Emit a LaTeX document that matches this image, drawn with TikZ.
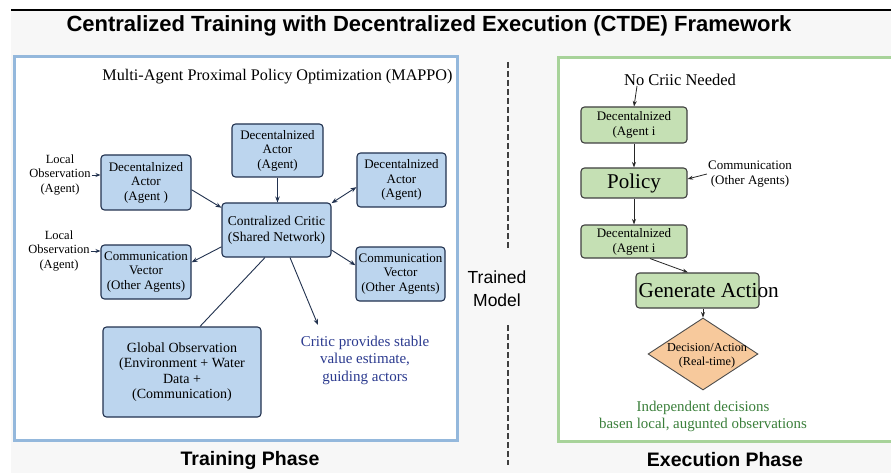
\documentclass[tikz,border=0pt]{standalone}
\usepackage{fontspec}
\setmainfont{Liberation Serif}
\setsansfont{Liberation Sans}
\usepackage{tikz}
\usetikzlibrary{arrows.meta,shapes.geometric}

\definecolor{panelblue}{HTML}{94B8DC}
\definecolor{panelgreen}{HTML}{A8D39A}
\definecolor{boxblue}{HTML}{BCD5EE}
\definecolor{boxgreen}{HTML}{C5E0B4}
\definecolor{navy}{HTML}{22324F}
\definecolor{notegreen}{HTML}{3A7F3A}
\definecolor{noteblue}{HTML}{2B3A8F}
\definecolor{decision}{HTML}{F7C99C}

\begin{document}
\begin{tikzpicture}[x=1pt,y=-1pt,
	fs/.style 2 args={font=\fontsize{#1}{#2}\selectfont},
	trainbox/.style={draw=navy, fill=boxblue, line width=1.1pt, rounded corners=3.5pt, align=center, inner sep=1pt, fs={13}{14.5}},
	execbox/.style={draw=black!75, fill=boxgreen, line width=1.1pt, rounded corners=3.5pt, align=center, inner sep=1pt, minimum width=106pt},
	tarrow/.style={-{Stealth[length=6pt,width=4.5pt]}, navy, line width=0.9pt},
	tboth/.style={tarrow, {Stealth[length=6pt,width=4.5pt]}-{Stealth[length=6pt,width=4.5pt]}},
	earrow/.style={-{Stealth[length=5.5pt,width=4pt]}, black!85, line width=0.8pt},
	divider/.style={dash pattern=on 6pt off 3pt, line width=1.6pt, black!75},
	phase/.style={font=\sffamily\bfseries\fontsize{19.5}{22}\selectfont, inner sep=0pt}]

	\useasboundingbox (0,0) rectangle (891,473);
	\fill[white] (0,0) rectangle (891,473);
	\fill[black!3] (11,10) rectangle (891,473);
	\draw[line width=1.4pt] (11,10) -- (891,10);

	\node[font=\sffamily\bfseries\fontsize{22}{26}\selectfont, anchor=base, inner sep=0pt] (title) at (429,32) {Centralized Training with Decentralized Execution (CTDE) Framework};

	\draw[panelblue, line width=3pt, fill=white] (14,57) rectangle (457,440);
	\draw[panelgreen, line width=3pt, fill=white] (558,58) rectangle (895,441);

	% training phase
	\node[fs={16.2}{19}, inner sep=0pt] (mappo) at (277.5,77) {Multi-Agent Proximal Policy Optimization (MAPPO)};

	\node[trainbox, minimum width=91pt, minimum height=53pt] (topactor) at (277.5,150.5) {Decentalnized\\Actor\\(Agent)};
	\node[trainbox, minimum width=90pt, minimum height=55pt] (leftactor) at (146,182.5) {Decentalnized\\Actor\\(Agent )};
	\node[trainbox, minimum width=89pt, minimum height=54pt] (rightactor) at (401.5,180) {Decentalnized\\Actor\\(Agent)};
	\node[trainbox, minimum width=109pt, minimum height=54pt, fs={13.5}{16}] (critic) at (276.5,230) {Contralized Critic\\(Shared Network)};
	\node[trainbox, minimum width=90pt, minimum height=54pt] (leftcomm) at (146,272) {Communication\\Vector\\(Other Agents)};
	\node[trainbox, minimum width=89pt, minimum height=54pt] (rightcomm) at (400.5,274) {Communication\\Vector\\(Other Agents)};
	\node[trainbox, minimum width=158pt, minimum height=90pt, fs={14}{15.5}] (globalobs) at (182,372) {Global Observation\\(Environment + Water\\Data +\\(Communication)};

	\node[fs={12.5}{14.5}, align=center, inner sep=1pt] (locobsA) at (60,175) {Local\\Observation\\(Agent)};
	\node[fs={12.5}{14.5}, align=center, inner sep=1pt] (locobsB) at (59,251) {Local\\Observation\\(Agent)};

	\node[fs={15}{17.5}, text=noteblue, align=center, inner sep=0pt] (note) at (365,360) {Critic provides stable\\value estimate,\\guiding actors};
	\coordinate (notetip) at (318,325);

	\foreach \obs/\target in {locobsA/leftactor,locobsB/leftcomm}
		\draw[tarrow, -{Stealth[length=5pt,width=4pt]}] (\obs.east) -- (\obs.east -| \target.west);

	\draw[tarrow] (leftactor.-9) -- (critic.158);
	\draw[tarrow] (topactor.south) -- (topactor.south |- critic.north);
	\draw[tboth] (critic.26) -- (rightactor.189);
	\draw[tarrow] (critic.197) -- (leftcomm.12);
	\draw[tarrow] (critic.-20) -- (rightcomm.169);
	\draw[navy, line width=0.9pt] ([xshift=-11.5pt]critic.south) -- ([xshift=18pt]globalobs.north);
	\draw[tarrow] ([xshift=13.5pt]critic.south) -- (notetip);

	% divider
	\node[font=\sffamily\fontsize{17.5}{23}\selectfont, align=center, inner sep=0pt] (trained) at (497,289) {Trained\\Model};
	\foreach \a/\b in {62/250,325/465}
		\draw[divider] (508,\a) -- (508,\b);

	% execution phase
	\node[fs={16.5}{19}, inner sep=0pt] (nocritic) at (680,80) {No Criic Needed};
	\node[execbox, fs={13}{15}, minimum height=36pt] (agentA) at (634,125) {Decentalnized\\(Agent i};
	\node[execbox, fs={21}{24}, minimum height=30pt] (policy) at (634,183) {Policy};
	\node[execbox, fs={13}{15}, minimum height=33pt] (agentB) at (634,241.5) {Decentalnized\\(Agent i};
	\node[execbox, minimum width=123pt, minimum height=35pt] (genact) at (697.5,290.5) {};
	\node[fs={21.3}{24}, anchor=west, inner sep=0pt] (genlabel) at ([xshift=3pt]genact.west) {Generate Action};
	\node[diamond, draw=black!70, fill=decision, line width=0.9pt, minimum width=110pt, minimum height=72pt, inner sep=0pt] (decision) at (703,354) {};
	\node[fs={12.2}{14.5}, align=center, inner sep=0pt] (decisionlabel) at (707,356) {Decision/Action\\(Real-time)};
	\node[fs={13}{15}, align=center, inner sep=1pt] (commlabel) at (750,174) {Communication\\(Other Agents)};
	\node[fs={14.9}{17}, text=notegreen, align=center, inner sep=0pt] (indep) at (703,416) {Independent decisions\\basen local, augunted observations};

	\draw[earrow] ([xshift=-43pt]nocritic.south) -- (agentA.north);
	\draw[earrow] (agentA.south) -- (policy.north);
	\draw[earrow] (policy.south) -- (agentB.north);
	\draw[earrow] (commlabel.west) -- ([yshift=4pt]policy.east);
	\draw[earrow] ([xshift=16pt]agentB.south) -- ([xshift=-9.5pt]genact.north);
	\draw[earrow] ([xshift=5.5pt]genact.south) -- (decision.north);

	\node[phase] (trainphase) at (250,460) {Training Phase};
	\node[phase] (execphase) at (725,460) {Execution Phase};

\end{tikzpicture}
\end{document}
